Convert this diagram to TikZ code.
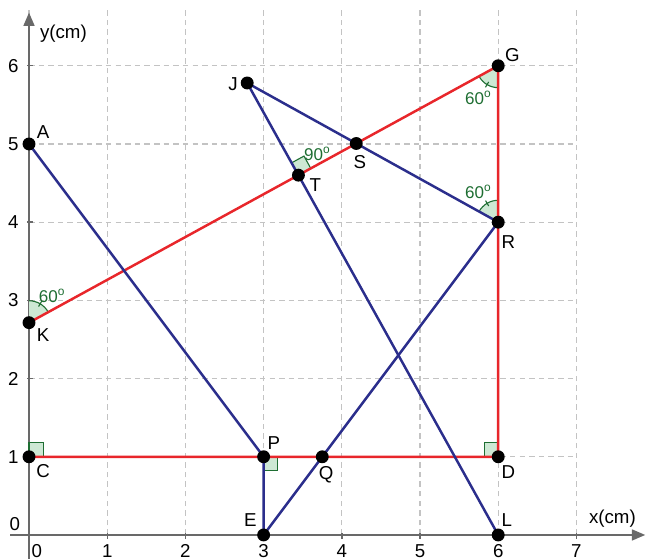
\documentclass[tikz,border=0pt]{standalone}
\usepackage{fontspec}
\setmainfont{Liberation Sans}
\usetikzlibrary{arrows.meta}
\definecolor{lineRed}{RGB}{232,38,43}
\definecolor{lineBlue}{RGB}{43,46,140}
\definecolor{angGreen}{RGB}{30,110,50}
\definecolor{angFill}{RGB}{205,232,212}
\definecolor{gridGray}{RGB}{195,195,195}
\definecolor{axisGray}{RGB}{105,105,105}

\begin{document}
\begin{tikzpicture}[
    redline/.style={lineRed, line width=0.9pt},
    blueline/.style={lineBlue, line width=0.9pt},
    dot/.style={circle, fill=black, inner sep=0pt, minimum size=0.165cm},
    lbl/.style={font=\fontsize{6.8}{8}\selectfont, inner sep=0pt},
    anglbl/.style={font=\fontsize{6.2}{7}\selectfont, text=angGreen, inner sep=0pt},
    rightang/.style={draw=angGreen, fill=angFill, line width=0.4pt},
    axis/.style={axisGray, line width=0.6pt, -{Triangle[length=0.17cm, width=0.14cm]}},
]
    \useasboundingbox (-0.371,-0.307) rectangle (7.928,6.841);

    % Grid
    \draw[gridGray, line width=0.4pt, dash pattern=on 2pt off 1.5pt] (0,0) grid (7,6.71);

    % Axes
    \draw[axis] (-0.24,0) -- (7.88,0);
    \draw[axis] (0,-0.31) -- (0,6.68);
    \foreach \i in {1,...,7} \draw[axisGray, line width=0.5pt] (\i,-0.05) -- (\i,0.02);
    \foreach \i in {1,...,6} \draw[axisGray, line width=0.5pt] (-0.02,\i) -- (0.05,\i);
    \foreach \i in {1,...,7} \node[lbl] (xl\i) at (\i,-0.21) {\i};
    \foreach \i in {1,...,6} \node[lbl] (yl\i) at (-0.2,\i) {\i};
    \node[lbl] (xl0) at (0.1,-0.21) {0};
    \node[lbl] (yl0) at (-0.18,0.14) {0};
    \node[lbl] (xname) at (7.46,0.21) {x(cm)};
    \node[lbl] (yname) at (0.44,6.41) {y(cm)};

    % Points
    \coordinate (A) at (0,5);
    \coordinate (C) at (0,1);
    \coordinate (K) at (0,2.715);
    \coordinate (P) at (3,1);
    \coordinate (E) at (3,0);
    \coordinate (Q) at (3.75,1);
    \coordinate (D) at (6,1);
    \coordinate (L) at (6,0);
    \coordinate (R) at (6,4);
    \coordinate (G) at (6,6);
    \coordinate (J) at (2.79,5.78);
    \coordinate (S) at (4.185,5.006);
    \coordinate (T) at (3.445,4.601);

    % Angle marks
    \foreach \p/\a/\b in {K/28.7/90, G/208.7/270, R/90/151} {
        \fill[angFill] (\p) -- ([shift={(\a:0.28)}]\p) arc[start angle=\a, end angle=\b, radius=0.28] -- cycle;
        \draw[angGreen, line width=0.4pt] ([shift={(\a:0.28)}]\p) arc[start angle=\a, end angle=\b, radius=0.28];
        \draw[angGreen, line width=0.4pt] ([shift={({(\a+\b)/2}:0.24)}]\p) -- ([shift={({(\a+\b)/2}:0.32)}]\p);
    }
    \draw[rightang] (C) rectangle ++(0.18,0.18);
    \draw[rightang] (P) rectangle ++(0.18,-0.18);
    \draw[rightang] (D) rectangle ++(-0.18,0.18);
    \draw[rightang, shift={(T)}, rotate=28.7] (0,0) -- (0.18,0) -- (0.18,0.18) -- (0,0.18) -- cycle;

    \node[anglbl] (aK) at (0.3,3.06) {60\textsuperscript{o}};
    \node[anglbl] (aG) at (5.75,5.59) {60\textsuperscript{o}};
    \node[anglbl] (aR) at (5.75,4.39) {60\textsuperscript{o}};
    \node[anglbl] (aT) at (3.69,4.87) {90\textsuperscript{o}};

    % Segments
    \draw[redline] (K) -- (G) -- (D) -- (C);
    \draw[blueline] (A) -- (P) -- (E) -- (R);
    \draw[blueline] (L) -- (J) -- (R);

    % Dots
    \foreach \p in {A,C,K,P,E,Q,D,L,R,G,J,S,T}
        \node[dot] (dot\p) at (\p) {};

    % Point labels
    \node[lbl] (lA) at (0.18,5.15) {A};
    \node[lbl] (lC) at (0.18,0.82) {C};
    \node[lbl] (lK) at (0.18,2.56) {K};
    \node[lbl] (lP) at (3.13,1.18) {P};
    \node[lbl] (lQ) at (3.80,0.77) {Q};
    \node[lbl] (lE) at (2.83,0.19) {E};
    \node[lbl] (lL) at (6.11,0.19) {L};
    \node[lbl] (lD) at (6.13,0.81) {D};
    \node[lbl] (lR) at (6.13,3.75) {R};
    \node[lbl] (lG) at (6.18,6.14) {G};
    \node[lbl] (lS) at (4.23,4.77) {S};
    \node[lbl] (lT) at (3.66,4.48) {T};
    \node[lbl] (lJ) at (2.61,5.77) {J};
\end{tikzpicture}
\end{document}
